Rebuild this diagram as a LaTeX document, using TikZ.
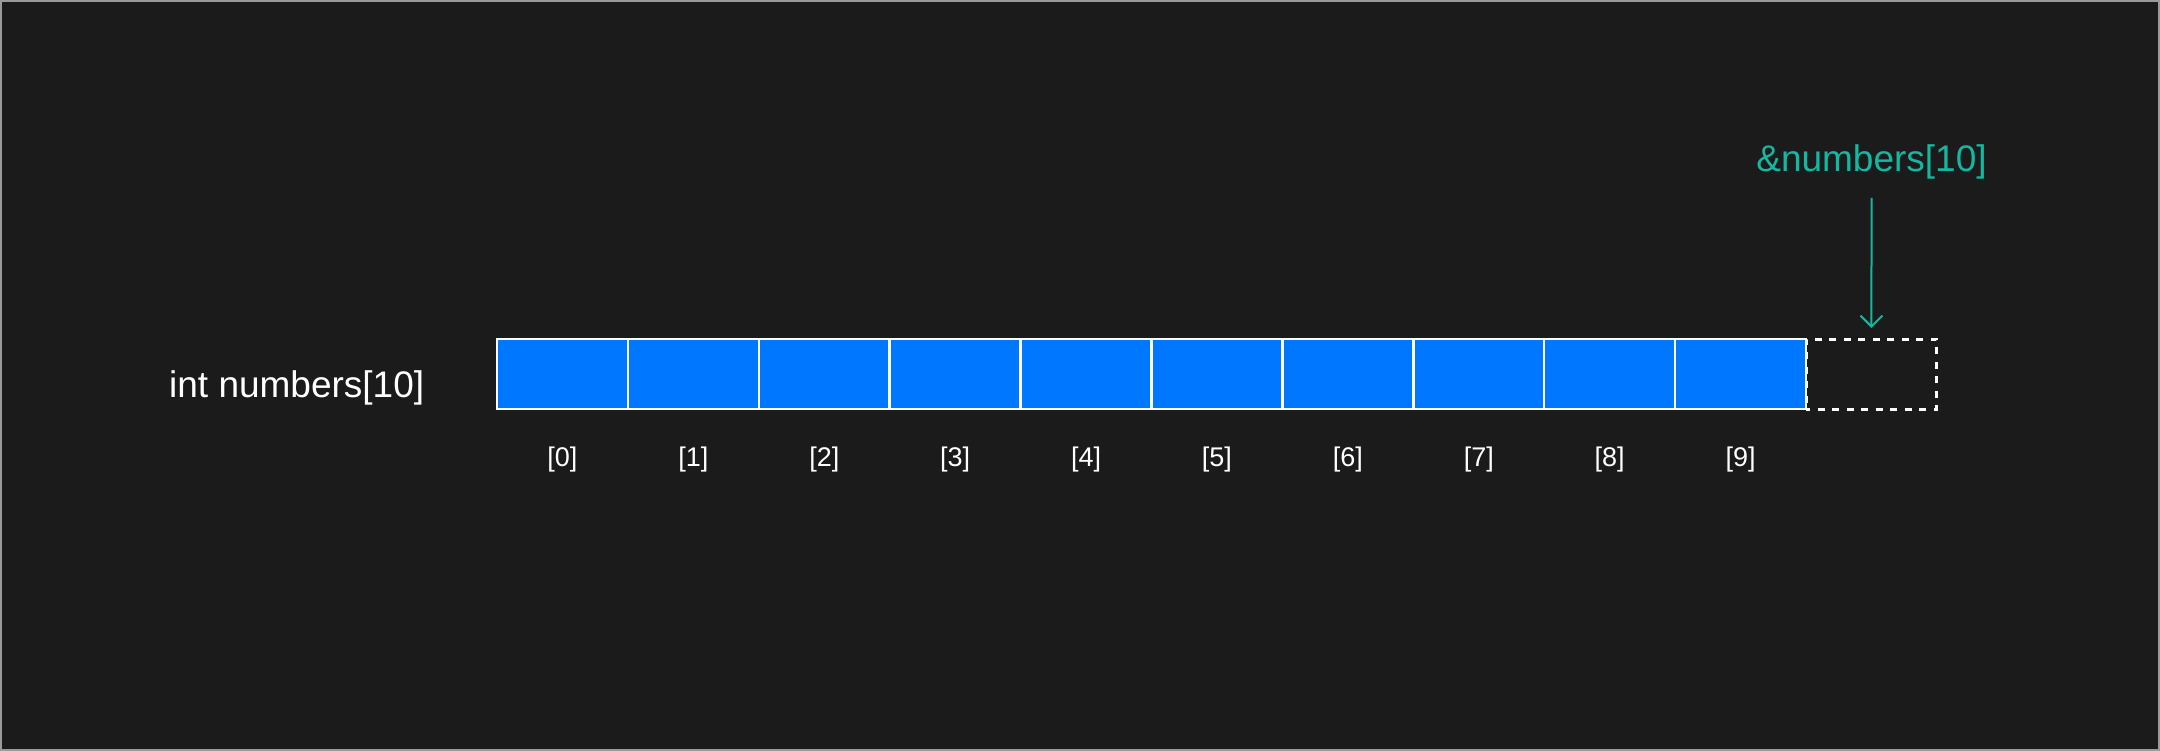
\documentclass[tikz,border=0pt]{standalone}
\usepackage{fontspec}
\setmainfont{Liberation Sans}
\usetikzlibrary{arrows.meta}
\definecolor{bg}{HTML}{1B1B1B}
\definecolor{frame}{HTML}{9A9A9A}
\definecolor{cellblue}{HTML}{0077FF}
\definecolor{teal}{HTML}{14B8A0}
\tikzset{
  cellbox/.style={draw=white, fill=cellblue, line width=2.5pt, minimum width=130.9pt, minimum height=70pt, inner sep=0pt, outer sep=0pt},
  ghostbox/.style={draw=white, dash pattern=on 7pt off 7.5pt, dash phase=3pt, line width=3pt, minimum width=130.9pt, minimum height=70pt, inner sep=0pt, outer sep=0pt},
  idxlabel/.style={text=white, font=\fontsize{27}{32}\selectfont, inner sep=0pt, anchor=base},
  biglabel/.style={font=\fontsize{37}{44}\selectfont, inner sep=0pt},
  pointer/.style={draw=teal, line width=2pt, -{Straight Barb[length=11pt,width=22pt,line width=2pt]}}
}
\begin{document}
\begin{tikzpicture}[x=1pt,y=-1pt]
\useasboundingbox (0,0) rectangle (2160,751);
\draw[fill=bg, draw=frame, line width=2pt] (1,1) rectangle (2159,750);
\node[biglabel, text=white, anchor=base west] (decl) at (169,397.5) {int numbers[10]};
\foreach \i in {0,...,9} {
  \node[cellbox] (c\i) at ({497+130.9*(\i+0.5)},374) {};
  \node[idxlabel] (l\i) at ({497+130.9*(\i+0.5)},466) {[\i]};
}
\node[ghostbox] (c10) at ({497+130.9*10.5},374) {};
\draw[white, line width=2.5pt] (c9.north east) -- (c9.south east);
\node[biglabel, text=teal, anchor=base] (addr) at (1871.5,171.5) {\&numbers[10]};
\coordinate (a0) at (1871.5,198);
\draw[pointer, shorten >=11pt] (a0) -- (c10.north);
\end{tikzpicture}
\end{document}
